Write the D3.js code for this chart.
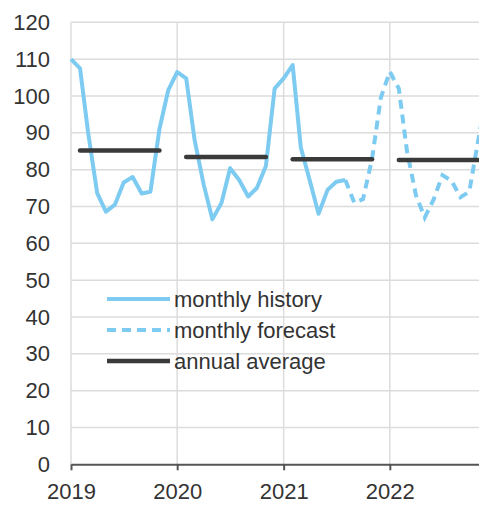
<!DOCTYPE html>
<html><head><meta charset="utf-8">
<script src="https://cdn.jsdelivr.net/npm/d3@7"></script>
<style>
html,body{margin:0;padding:0;background:#fff;overflow:hidden;}
svg{display:block;font-family:"Liberation Sans",Arial,sans-serif;}
</style></head>
<body>
<svg id="c" width="479" height="505"></svg>
<script>
// ---- data ----
const historyStart = "2019-01";
const historyValues = [110,107.5,90,73.6,68.6,70.5,76.5,78,73.5,74,91,101.5,
                       106.5,104.8,88,76,66.5,70.9,80.4,77.2,72.7,75,81,102,
                       104.8,108.4,86,77,68,74.5,76.7,77.2];
const forecastStart = "2021-08";
const forecastValues = [77.2,71,72,83,99.5,106.6,102,85,73,67,72,78.5,77,72.5,74,88,101,106];
const avgYears = [2019,2020,2021,2022];
const avgValues = [85.2,83.4,82.8,82.6];
const yTicks = [0,10,20,30,40,50,60,70,80,90,100,110,120];
const xTickYears = [2019,2020,2021,2022];
const legendLabels = ["monthly history","monthly forecast","annual average"];

// ---- layout ----
const svg = d3.select("#c");
const x = d3.scaleTime().domain([new Date(2019,0,1), new Date(2023,0,1)]).range([71,496]);
const y = d3.scaleLinear().domain([0,120]).range([464.3,22.3]);
const parse = d3.timeParse("%Y-%m");
const blue = "#7ecbf1", dark = "#3a3a3a", grid = "#dcdcdc", txt = "#333";

function series(start, vals){
  const s = parse(start);
  return vals.map((v,i)=>({d:d3.timeMonth.offset(s,i), v}));
}
const hist = series(historyStart, historyValues);
const fc = series(forecastStart, forecastValues);

// gridlines
svg.append("g").selectAll("line").data(yTicks.filter(t=>t>0)).join("line")
  .attr("x1",71).attr("x2",479).attr("y1",d=>y(d)).attr("y2",d=>y(d))
  .attr("stroke",grid).attr("stroke-width",1.5);
svg.append("g").selectAll("line").data(xTickYears).join("line")
  .attr("x1",d=>x(new Date(d,0,1))).attr("x2",d=>x(new Date(d,0,1)))
  .attr("y1",y(120)).attr("y2",y(0))
  .attr("stroke",grid).attr("stroke-width",1.5);

// y axis labels
const yAxis = d3.axisLeft(y).tickValues(yTicks).tickSize(0).tickPadding(0);
const gy = svg.append("g").attr("transform","translate(50,0)").call(yAxis);
gy.select(".domain").remove();
gy.selectAll("text").attr("font-size",22).attr("fill",txt).attr("font-family","Liberation Sans, Arial, sans-serif");

// x axis
const xAxis = d3.axisBottom(x).tickValues(xTickYears.map(d=>new Date(d,0,1)))
  .tickFormat(d3.timeFormat("%Y")).tickSize(6).tickSizeOuter(0).tickPadding(13);
const gx = svg.append("g").attr("transform",`translate(0,${y(0)})`).call(xAxis);
gx.select(".domain").attr("stroke","#555").attr("stroke-width",2);
gx.selectAll(".tick line").attr("stroke","#555").attr("stroke-width",2);
gx.selectAll("text").attr("font-size",22).attr("fill",txt).attr("font-family","Liberation Sans, Arial, sans-serif");

// lines
const line = d3.line().x(d=>x(d.d)).y(d=>y(d.v)).curve(d3.curveLinear);
svg.append("path").datum(hist).attr("d",line).attr("fill","none")
  .attr("stroke",blue).attr("stroke-width",4).attr("stroke-linejoin","round");
svg.append("path").datum(fc).attr("d",line).attr("fill","none")
  .attr("stroke",blue).attr("stroke-width",4).attr("stroke-dasharray","9,6");

// annual averages
svg.append("g").selectAll("line").data(avgYears.map((yr,i)=>({yr,v:avgValues[i]}))).join("line")
  .attr("x1",d=>x(new Date(d.yr,1,1)))
  .attr("x2",d=>x(new Date(d.yr,10,1)))
  .attr("y1",d=>y(d.v)).attr("y2",d=>y(d.v))
  .attr("stroke",dark).attr("stroke-width",4.5).attr("stroke-linecap","round");

// legend
const lg = svg.append("g");
const styles = [{c:blue,dash:null,w:4},{c:blue,dash:"9,6",w:4},{c:dark,dash:null,w:4.5}];
legendLabels.forEach((lab,i)=>{
  const yy = 299 + i*31;
  lg.append("line").attr("x1",107).attr("x2",170).attr("y1",yy).attr("y2",yy)
    .attr("stroke",styles[i].c).attr("stroke-width",styles[i].w)
    .attr("stroke-dasharray",styles[i].dash);
  lg.append("text").attr("x",174).attr("y",yy).attr("dy","0.35em")
    .attr("font-size",22).attr("fill",txt).text(lab);
});
</script>
</body></html>
